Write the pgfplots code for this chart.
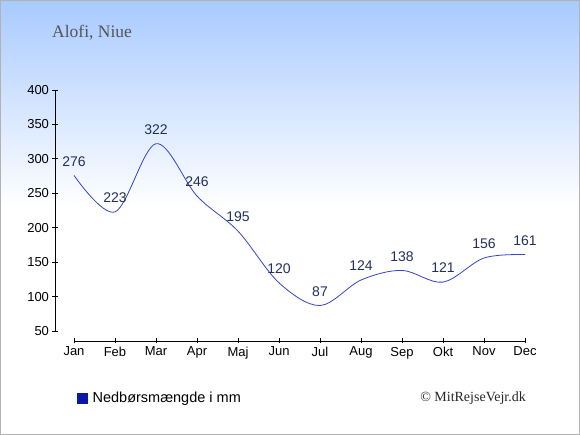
\documentclass[border=0pt]{standalone}
\usepackage{pgfplots}
\pgfplotsset{compat=1.18}
\usepackage{fontspec}
\setmainfont{Liberation Sans}
\newfontfamily\seriffont{Liberation Serif}
\definecolor{bgtop}{RGB}{168,202,255}
\definecolor{linec}{RGB}{51,68,204}
\definecolor{labc}{RGB}{34,48,90}
\definecolor{legc}{RGB}{10,24,170}
\definecolor{titc}{RGB}{85,85,85}
\begin{document}
\begin{tikzpicture}[x=1pt,y=1pt]
\useasboundingbox (0,0) rectangle (580,435);
\fill[white] (0,0) rectangle (580,435);
\shade[top color=bgtop, bottom color=white] (0,228) rectangle (580,435);
\draw[gray!60, line width=1pt] (0.5,0.5) rectangle (579.5,434.5);
\node[anchor=west, text=titc, font=\seriffont\fontsize{17.5}{20}\selectfont, inner sep=0pt] at (52,402) {Alofi, Niue};
\node[anchor=east, text=black!85, font=\seriffont\fontsize{14}{16}\selectfont, inner sep=0pt] at (526,37) {© MitRejseVejr.dk};
\begin{axis}[
  at={(74pt,104pt)}, anchor=south west,
  scale only axis, width=451pt, height=241pt,
  xmin=0, xmax=11, ymin=50, ymax=400,
  separate axis lines,
  axis x line=bottom, axis y line=left,
  axis x line shift=10pt, axis y line shift=19pt,
  axis line style={-, black, line width=0.8pt},
  xtick={0,...,11},
  xticklabels={Jan,Feb,Mar,Apr,Maj,Jun,Jul,Aug,Sep,Okt,Nov,Dec},
  ytick={50,100,...,400},
  tick align=center, major tick length=5pt,
  tick style={black, line width=0.8pt},
  /pgf/number format/assume math mode=true,
  ticklabel style={font=\fontsize{13}{15}\selectfont, text=black},
  xticklabel style={yshift=0pt},
  yticklabel style={xshift=0pt},
  clip=false,
  legend style={at={(rel axis cs:0,0)}, anchor=west, xshift=3pt, yshift=-67pt,
    draw=none, fill=none, inner sep=0pt, font=\fontsize{14.5}{16}\selectfont},
  legend cell align=left,
]
\addplot[linec, line width=0.8pt, smooth, tension=0.55, forget plot,
  nodes near coords,
  every node near coord/.append style={font=\fontsize{14}{16}\selectfont, text=labc, anchor=center, yshift=14pt}]
  coordinates {(0,276) (1,223) (2,322) (3,246) (4,195) (5,120) (6,87) (7,124) (8,138) (9,121) (10,156) (11,161)};
\addlegendimage{legend image code/.code={\fill[legc] (0pt,-5pt) rectangle (10pt,5pt); \path (13pt,0pt);}}
\addlegendentry{Nedbørsmængde i mm}
\end{axis}
\end{tikzpicture}
\end{document}
